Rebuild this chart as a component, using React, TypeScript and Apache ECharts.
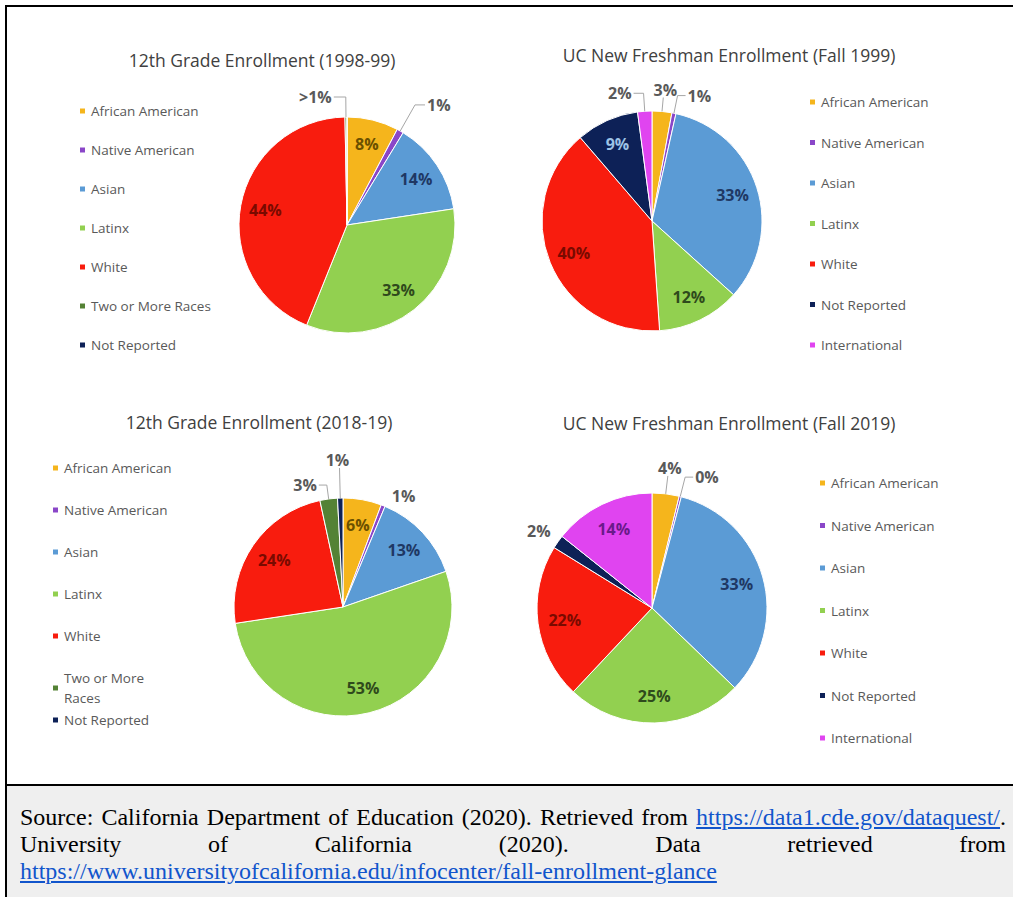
import React, { useEffect, useRef } from "react";
import * as echarts from "echarts";

// ---------- data ----------
const categories12 = [
  "African American",
  "Native American",
  "Asian",
  "Latinx",
  "White",
  "Two or More Races",
  "Not Reported",
];
const categoriesUC = [
  "African American",
  "Native American",
  "Asian",
  "Latinx",
  "White",
  "Not Reported",
  "International",
];

const values1998 = [7.7, 1.0, 13.9, 33.5, 43.6, 0.3, 0];
const labels1998 = ["8%", "1%", "14%", "33%", "44%", ">1%", ""];

const valuesUC1999 = [2.9, 0.6, 33.2, 12.2, 39.8, 9.2, 2.1];
const labelsUC1999 = ["3%", "1%", "33%", "12%", "40%", "9%", "2%"];

const values2018 = [5.7, 0.6, 13.4, 52.9, 24.0, 2.6, 0.8];
const labels2018 = ["6%", "1%", "13%", "53%", "24%", "3%", "1%"];

const valuesUC2019 = [3.8, 0.3, 33.1, 24.8, 21.8, 1.9, 14.3];
const labelsUC2019 = ["4%", "0%", "33%", "25%", "22%", "2%", "14%"];

const titles = [
  "12th Grade Enrollment (1998-99)",
  "UC New Freshman Enrollment (Fall 1999)",
  "12th Grade Enrollment (2018-19)",
  "UC New Freshman Enrollment (Fall 2019)",
];

// ---------- styles ----------
const COLORS: Record<string, string> = {
  "African American": "#F5B51C",
  "Native American": "#8A46C8",
  Asian: "#5B9BD5",
  Latinx: "#92D050",
  White: "#F81C0E",
  "Two or More Races": "#548235",
  "Not Reported": "#0D2157",
  International: "#E044F0",
};
const INSIDE_COLORS: Record<string, string> = {
  "African American": "#6B5000",
  "Native American": "#3a1760",
  Asian: "#1F3864",
  Latinx: "#2F4A1C",
  White: "#7A0A00",
  "Two or More Races": "#1d2e12",
  "Not Reported": "#9DC3E6",
  International: "#6A1A8A",
};
const OUT_COLOR = "#595959";
const FONT = "'Open Sans', 'Noto Sans', sans-serif";

type OuterCfg = {
  [idx: number]: { len: number; len2: number; line: boolean; up?: boolean; dy?: number };
};

function buildSeries(
  names: string[],
  values: number[],
  labels: string[],
  center: [number, number],
  r: number,
  outer: OuterCfg
) {
  const base = {
    type: "pie",
    center,
    startAngle: 90,
    clockwise: true,
    silent: true,
    avoidLabelOverlap: false,
    emphasis: { disabled: true },
  };
  const visible = {
    ...base,
    radius: [0, r],
    label: { show: false },
    labelLine: { show: false },
    itemStyle: { borderColor: "#ffffff", borderWidth: 1 },
    data: names.map((n, i) => ({
      name: n,
      value: values[i],
      itemStyle: { color: COLORS[n] },
    })),
  };
  const overlay = {
    ...base,
    z: 3,
    radius: [Math.round(r * 0.48), r],
    itemStyle: { color: "transparent", borderWidth: 0 },
    label: {
      show: true,
      position: "inside",
      fontFamily: FONT,
      fontSize: 16,
      fontWeight: "bold",
      formatter: (p: any) => labels[p.dataIndex],
    },
    labelLine: { show: false },
    labelLayout: (p: any) => {
      const o = outer[p.dataIndex];
      if (!o) return {};
      const res: any = {};
      if (o.up) {
        res.align = "center";
        res.verticalAlign = "bottom";
      }
      if (o.dy) res.dy = o.dy;
      return res;
    },
    data: names.map((n, i) => {
      const o = outer[i];
      if (!labels[i]) {
        return { name: n, value: values[i], label: { show: false }, labelLine: { show: false } };
      }
      if (o) {
        return {
          name: n,
          value: values[i],
          label: { show: true, position: "outside", color: OUT_COLOR, distanceToLabelLine: 2 },
          labelLine: {
            show: o.line,
            length: o.len,
            length2: o.len2,
            smooth: false,
            lineStyle: { color: "#A6A6A6", width: 1 },
          },
        };
      }
      return {
        name: n,
        value: values[i],
        label: { show: true, position: "inside", color: INSIDE_COLORS[n] },
        labelLine: { show: false },
      };
    }),
  };
  return [visible, overlay];
}

function legend(
  names: string[],
  left: number,
  top: number,
  gap: number,
  lineHeight = 14,
  fmt?: (n: string) => string
) {
  return {
    orient: "vertical",
    left,
    top,
    padding: 0,
    itemGap: gap,
    itemWidth: 7,
    itemHeight: 7,
    icon: "rect",
    selectedMode: false,
    formatter: fmt,
    textStyle: { color: OUT_COLOR, fontFamily: FONT, fontSize: 13.5, lineHeight },
    data: names.map((n) => ({ name: n, itemStyle: { color: COLORS[n] } })),
  };
}

function titleText(text: string, x: number, y: number) {
  return {
    type: "text",
    x,
    y,
    silent: true,
    style: {
      text,
      fill: "#404040",
      font: `17.5px ${FONT}`,
      textAlign: "center",
      textVerticalAlign: "middle",
    },
  };
}

export default function App() {
  const ref = useRef<HTMLDivElement>(null);
  useEffect(() => {
    if (!ref.current) return;
    const chart = echarts.init(ref.current, undefined, { renderer: "svg" });
    const series = [
      ...buildSeries(categories12, values1998, labels1998, [347, 225], 108, {
        1: { len: 30, len2: 10, line: true },
        5: { len: 20, len2: 12, line: true },
      }),
      ...buildSeries(categoriesUC, valuesUC1999, labelsUC1999, [652, 221], 110, {
        0: { len: 14, len2: 0, line: true, up: true },
        1: { len: 18, len2: 8, line: true },
        6: { len: 18, len2: 10, line: true },
      }),
      ...buildSeries(categories12, values2018, labels2018, [343, 607], 109, {
        1: { len: 10, len2: 3, line: false },
        5: { len: 14, len2: 8, line: true },
        6: { len: 30, len2: 0, line: true, up: true },
      }),
      ...buildSeries(categoriesUC, valuesUC2019, labelsUC2019, [652, 608], 115, {
        0: { len: 18, len2: 0, line: true, up: true },
        1: { len: 20, len2: 8, line: true },
        5: { len: 4, len2: 2, line: false, dy: -9 },
      }),
    ];
    chart.setOption({
      animation: false,
      legend: [
        legend(categories12, 78, 104, 25),
        legend(categoriesUC, 808, 95, 26.5),
        legend(categories12.slice(0, 6), 51, 458, 22, 20, (n) =>
          n === "Two or More Races" ? "Two or More\nRaces" : n
        ),
        legend(categories12.slice(6), 51, 713, 28),
        legend(categoriesUC, 818, 476, 28.5),
      ],
      graphic: [
        titleText(titles[0], 262, 60),
        titleText(titles[1], 729, 55),
        titleText(titles[2], 259, 422),
        titleText(titles[3], 729, 423),
      ],
      series,
    });
    return () => chart.dispose();
  }, []);

  const serif = "'Liberation Serif', 'Times New Roman', serif";
  const link = { color: "#1155CC", textDecoration: "underline" };
  const lineStyle: React.CSSProperties = {
    textAlign: "justify",
    textAlignLast: "justify" as any,
    height: 27,
  };
  return (
    <div style={{ position: "absolute", left: 0, top: 0, width: 1013, height: 897, background: "#ffffff", overflow: "hidden" }}>
      <div ref={ref} style={{ position: "absolute", left: 0, top: 0, width: 1013, height: 784 }} />
      {/* footer background */}
      <div style={{ position: "absolute", left: 7, top: 786, width: 1006, height: 111, background: "#EFEFEF" }} />
      {/* borders */}
      <div style={{ position: "absolute", left: 5, top: 5, width: 1008, height: 2, background: "#000" }} />
      <div style={{ position: "absolute", left: 5, top: 5, width: 2, height: 892, background: "#000" }} />
      <div style={{ position: "absolute", left: 5, top: 784, width: 1008, height: 2, background: "#000" }} />
      {/* footer text */}
      <div
        style={{
          position: "absolute",
          left: 20,
          top: 804,
          width: 986,
          fontFamily: serif,
          fontSize: 24,
          lineHeight: "27px",
          color: "#000",
        }}
      >
        <div style={lineStyle}>
          Source: California Department of Education (2020). Retrieved from{" "}
          <span style={link}>https://data1.cde.gov/dataquest/</span>.
        </div>
        <div style={lineStyle}>University of California (2020). Data retrieved from</div>
        <div style={{ height: 27 }}>
          <span style={link}>https://www.universityofcalifornia.edu/infocenter/fall-enrollment-glance</span>
        </div>
      </div>
    </div>
  );
}
